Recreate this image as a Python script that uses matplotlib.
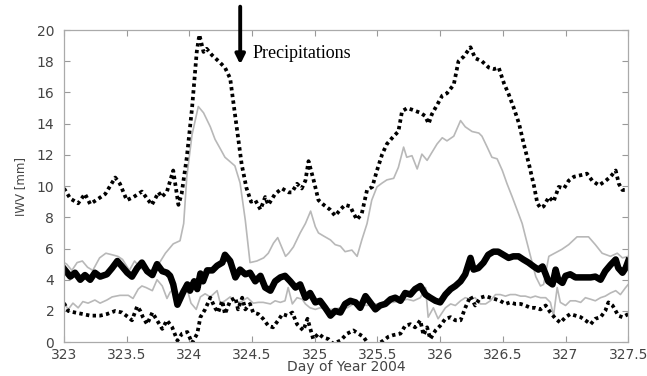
import matplotlib
matplotlib.use("Agg")
import matplotlib.pyplot as plt
import numpy as np

# hours after day 323.0, value [mm]
max_hr = [0.0, 1.2, 2.7, 4.0, 5.0, 6.6, 7.9, 9.8, 10.7, 12.0, 13.3, 14.9, 16.8, 18.1,
          18.7, 19.7, 20.9, 21.9, 22.5, 23.5, 24.5, 25.4, 25.9, 26.7, 27.3, 28.3, 29.6,
          30.8, 31.8, 32.8, 34.0, 34.9, 35.8, 36.6, 37.6, 38.5, 39.1, 40.4, 41.7, 43.0,
          43.6, 44.6, 45.5, 46.2, 46.8, 47.8, 48.7, 49.7, 50.9, 51.9, 52.9, 53.8, 54.8,
          55.4, 56.1, 57.0, 58.0, 59.0, 59.9, 60.9, 61.8, 63.1, 64.0, 64.7, 65.7, 66.6,
          68.2, 69.1, 69.8, 70.4, 71.4, 72.4, 73.3, 74.6, 75.5, 76.5, 77.8, 78.7, 80.0,
          81.3, 82.3, 83.2, 84.2, 85.1, 86.1, 87.1, 88.0, 89.0, 90.0, 90.6, 91.2, 91.8,
          92.8, 93.7, 94.7, 95.7, 96.6, 97.6, 98.9, 100.1, 101.1, 102.4, 103.7, 104.6,
          105.6, 106.2, 106.9, 108.0]
max_val = [9.85, 9.2, 8.9, 9.5, 8.85, 9.2, 9.5, 10.55, 10.15, 9.1, 9.3, 9.65, 8.8, 9.6,
           9.3, 9.65, 11.0, 8.8, 9.5, 11.85, 15.0, 18.6, 19.7, 18.6, 18.8, 18.4, 18.0,
           17.6, 16.9, 14.4, 11.4, 9.9, 9.0, 9.1, 8.5, 9.3, 8.8, 9.5, 9.85, 9.6,
           9.6, 10.15, 9.85, 10.35, 11.6, 10.35, 9.1, 8.8, 8.5, 8.1, 8.5, 8.8, 8.7,
           8.25, 7.85, 8.25, 9.75, 9.95, 11.0, 12.05, 12.7, 13.2, 13.5, 14.8, 15.0, 14.9,
           14.7, 14.5, 14.0, 14.6, 15.2, 15.8, 15.95, 16.5, 18.0, 18.3, 18.9, 18.2, 18.0,
           17.6, 17.5, 17.6, 16.6, 15.9, 15.0, 14.0, 12.7, 11.4, 9.95, 8.9, 8.6, 8.7,
           9.3, 9.0, 9.95, 9.85, 10.35, 10.6, 10.7, 10.8, 10.35, 10.05, 10.35, 10.6,
           11.0, 10.15, 9.75, 9.75]

hi_hr = [0.0, 0.5, 1.5, 2.5, 3.5, 4.5, 5.5, 6.8, 8.0, 9.2, 10.3, 11.2, 12.5, 13.5, 14.5,
         15.8, 17.0, 18.1, 19.4, 20.9, 22.2, 22.9, 23.5, 24.5, 25.7, 26.7, 28.0, 28.9,
         29.9, 30.8, 32.7, 33.7, 34.7, 35.6, 36.9, 38.2, 39.1, 40.1, 40.9, 42.4, 43.0,
         43.9, 45.2, 46.2, 47.2, 48.1, 48.7, 49.7, 51.0, 51.9, 52.9, 53.8, 55.1, 56.1,
         57.0, 58.0, 58.9, 59.9, 60.9, 61.8, 63.1, 64.0, 65.0, 65.6, 66.6, 67.6, 68.5,
         69.5, 70.4, 71.4, 72.4, 73.3, 74.6, 75.9, 76.8, 78.1, 79.4, 80.0, 81.0, 81.9,
         82.9, 83.9, 84.8, 85.8, 86.7, 87.7, 88.3, 89.3, 90.3, 91.2, 91.8, 92.8, 95.3,
         96.6, 98.2, 100.4, 101.7, 103.0, 104.6, 105.9, 106.9, 108.0]
hi_val = [5.1, 5.0, 4.6, 5.1, 5.2, 4.8, 4.6, 5.4, 5.7, 5.6, 5.5, 5.3, 4.6, 5.2, 4.8,
          4.5, 4.4, 5.0, 5.7, 6.3, 6.5, 7.6, 10.6, 13.3, 15.1, 14.7, 13.8, 13.0,
          12.4, 11.85, 11.3, 10.2, 7.8, 5.1, 5.2, 5.4, 5.7, 6.35, 6.7, 5.5, 5.7,
          6.1, 7.0, 7.6, 8.4, 7.4, 7.0, 6.8, 6.55, 6.25, 6.15, 5.8, 5.9, 5.5,
          6.55, 7.6, 9.1, 9.95, 10.2, 10.4, 10.5, 11.2, 12.5, 11.85, 11.95, 11.1, 12.05,
          11.65, 12.15, 12.7, 13.1, 12.9, 13.2, 14.2, 13.8, 13.5, 13.4, 13.2, 12.5, 11.85,
          11.75, 11.0, 10.15, 9.3, 8.5, 7.6, 6.8, 5.5, 4.2, 3.6, 3.7, 5.5, 5.95,
          6.25, 6.75, 6.75, 6.25, 5.7, 5.5, 5.7, 5.4, 5.5]

mean_hr = [0.0, 1.2, 2.1, 3.1, 4.0, 5.0, 5.9, 6.9, 8.2, 9.2, 10.2, 11.1, 12.1, 13.0, 14.0,
           14.9, 15.9, 16.9, 17.8, 18.8, 19.7, 20.3, 20.9, 21.7, 22.8, 23.6, 24.1, 24.9,
           25.5, 26.1, 26.6, 27.4, 28.4, 29.3, 30.3, 30.8, 31.8, 32.8, 33.7, 34.7, 35.6,
           36.6, 37.6, 38.5, 39.5, 40.4, 41.4, 42.3, 43.3, 44.3, 45.2, 46.2, 47.1, 48.1,
           49.0, 50.0, 51.0, 51.9, 52.9, 53.8, 54.8, 55.8, 56.7, 57.7, 58.6, 59.6, 60.5,
           61.5, 62.5, 63.4, 64.4, 65.3, 66.3, 67.2, 68.2, 69.2, 70.1, 71.1, 72.0, 73.0,
           74.0, 74.9, 75.9, 76.8, 77.8, 78.4, 79.3, 80.3, 81.2, 82.2, 83.1, 84.1, 85.1,
           86.0, 87.0, 87.9, 88.9, 89.9, 90.8, 91.6, 92.2, 92.7, 93.5, 94.1, 94.6, 95.4,
           96.0, 96.9, 97.9, 98.9, 99.8, 100.8, 101.7, 102.7, 103.6, 104.6, 105.6, 106.1,
           106.9, 107.5, 108.0]
mean_val = [4.7, 4.2, 4.45, 4.0, 4.3, 4.0, 4.45, 4.2, 4.35, 4.75, 5.2, 4.85, 4.45, 4.2, 4.75,
            5.1, 4.55, 4.3, 5.0, 4.55, 4.45, 4.25, 3.7, 2.4, 3.2, 3.7, 3.3, 3.9,
            3.4, 4.4, 3.9, 4.6, 4.6, 4.9, 5.1, 5.6, 5.2, 4.15, 4.65, 4.35, 4.45,
            3.9, 4.25, 3.5, 3.3, 3.9, 4.15, 4.25, 3.9, 3.5, 3.7, 2.85, 3.15, 2.55,
            2.65, 2.2, 1.7, 2.0, 1.9, 2.45, 2.65, 2.55, 2.2, 2.95, 2.55, 2.1, 2.35,
            2.45, 2.75, 2.85, 2.65, 3.15, 3.05, 3.4, 3.6, 3.05, 2.85, 2.65, 2.55, 3.05,
            3.4, 3.6, 3.9, 4.35, 5.4, 4.65, 4.75, 5.1, 5.6, 5.8, 5.8, 5.6, 5.4,
            5.5, 5.5, 5.3, 5.1, 4.85, 4.65, 4.85, 4.35, 3.9, 3.7, 4.65, 4.0, 3.8,
            4.25, 4.35, 4.15, 4.15, 4.15, 4.15, 4.2, 4.0, 4.55, 4.95, 5.3, 4.75,
            4.45, 4.75, 5.2]

lo_hr = [0.0, 0.8, 1.7, 2.7, 3.6, 4.6, 5.9, 6.9, 8.2, 9.2, 10.7, 12.3, 13.2, 14.2, 14.9,
         15.7, 16.9, 17.8, 18.8, 19.7, 20.3, 20.9, 21.7, 22.6, 23.4, 24.3, 25.3, 26.1,
         27.0, 28.0, 29.3, 29.9, 30.8, 31.8, 32.8, 33.7, 35.1, 36.2, 37.2, 38.1, 39.5,
         40.4, 41.4, 42.3, 42.9, 43.7, 44.6, 45.6, 46.2, 47.1, 48.1, 49.0, 50.4, 51.5,
         52.9, 54.2, 55.4, 56.7, 58.0, 59.2, 60.5, 61.9, 63.0, 64.4, 65.7, 66.9, 68.2,
         69.2, 69.7, 70.7, 71.6, 73.0, 74.0, 74.9, 75.9, 76.8, 77.8, 78.7, 79.7, 80.7,
         81.6, 82.6, 83.5, 84.5, 85.4, 86.4, 87.4, 88.3, 89.3, 90.2, 91.2, 92.2, 93.1,
         93.7, 94.4, 95.0, 96.0, 96.9, 97.9, 98.9, 99.8, 100.8, 101.7, 102.7, 103.6,
         104.6, 105.6, 106.5, 107.5, 108.0]
lo_val = [2.5, 2.1, 2.5, 2.2, 2.6, 2.5, 2.7, 2.5, 2.7, 2.9, 3.0, 3.0, 2.8, 3.4, 3.6,
          3.5, 3.3, 4.0, 3.6, 2.8, 3.2, 3.4, 2.9, 3.4, 3.6, 2.5, 2.1, 2.9,
          3.1, 2.9, 3.3, 2.5, 2.65, 2.9, 2.65, 2.55, 2.85, 2.5, 2.55, 2.55, 2.45,
          2.65, 2.55, 2.65, 3.5, 2.45, 2.85, 2.75, 2.45, 2.2, 2.1, 2.2, 2.1, 2.1,
          2.2, 2.2, 2.45, 2.45, 2.35, 2.45, 2.45, 2.55, 2.55, 2.65, 2.75, 2.65, 2.85,
          3.5, 1.6, 2.2, 1.5, 2.2, 2.45, 2.35, 2.65, 2.85, 2.75, 2.85, 2.45, 2.45,
          2.65, 3.05, 3.05, 2.95, 3.05, 3.05, 2.95, 2.95, 2.85, 2.95, 2.85, 2.85, 2.55,
          1.7, 3.5, 2.55, 2.35, 2.65, 2.65, 2.55, 2.85, 2.75, 2.65, 2.85, 2.95,
          3.15, 3.3, 3.05, 3.5, 3.7]

min_hr = [0.0, 0.8, 2.1, 3.6, 5.0, 6.9, 8.2, 9.8, 11.1, 12.3, 13.0, 14.0, 14.6, 15.1, 15.9,
          16.9, 17.8, 18.8, 19.7, 20.7, 21.7, 22.6, 23.6, 24.5, 25.5, 26.1, 27.0, 28.0,
          28.9, 29.5, 30.3, 30.8, 31.8, 32.8, 33.3, 34.1, 34.7, 35.6, 36.2, 37.2, 38.1,
          39.1, 40.0, 41.0, 41.8, 42.7, 43.7, 44.6, 45.2, 45.8, 46.6, 47.7, 48.7, 49.6,
          50.6, 51.5, 52.9, 54.2, 55.4, 56.3, 57.3, 58.2, 59.2, 60.2, 61.1, 62.1, 63.0,
          64.4, 65.3, 66.3, 67.2, 68.2, 68.8, 69.5, 70.1, 71.1, 72.0, 73.0, 74.0, 74.9,
          75.9, 76.8, 77.8, 78.7, 79.7, 80.7, 81.6, 82.6, 83.5, 84.5, 85.4, 86.4, 87.4,
          88.3, 89.3, 90.2, 91.2, 92.2, 93.1, 94.1, 95.0, 96.0, 96.9, 97.9, 98.9, 99.8,
          100.8, 101.7, 102.7, 103.6, 104.2, 105.0, 105.6, 106.1, 106.9, 108.0]
min_val = [2.5, 2.0, 1.9, 1.8, 1.7, 1.7, 1.8, 2.0, 1.9, 1.6, 1.4, 2.3, 2.0, 1.6, 1.15,
           1.9, 1.4, 0.85, 1.4, 0.95, 0.1, 0.55, 0.65, -0.05, 0.55, 1.6, 2.1, 2.85,
           2.2, 1.9, 2.65, 1.8, 2.65, 2.85, 2.1, 2.85, 2.1, 2.45, 1.9, 1.8, 1.5,
           1.05, 0.95, 1.4, 1.8, 1.7, 1.9, 1.15, 0.95, 0.75, 1.5, 0.2, 0.55, 0.3,
           0.2, -0.1, 0.1, 0.55, 0.75, 0.55, 0.35, -0.1, -0.2, -0.1, 0.1, 0.35, 0.45,
           0.55, 1.05, 1.15, 0.95, 1.4, 0.45, 0.95, 0.2, 0.75, 1.05, 1.5, 1.6, 1.4,
           1.4, 2.2, 2.95, 2.35, 2.85, 2.95, 2.85, 2.75, 2.65, 2.45, 2.55, 2.45, 2.45,
           2.35, 2.2, 2.2, 2.1, 2.35, 1.9, 1.5, 1.25, 1.6, 1.8, 1.7, 1.6, 1.4,
           1.15, 1.5, 1.6, 2.0, 2.55, 2.35, 2.0, 1.7, 1.6, 1.8]

x_ticks = [323, 323.5, 324, 324.5, 325, 325.5, 326, 326.5, 327, 327.5]
x_labels = ["323", "323.5", "324", "324.5", "325", "325.5", "326", "326.5", "327", "327.5"]
y_ticks = list(range(0, 21, 2))

rain_day = 324.405


def to_day(hours):
    return 323 + np.asarray(hours) / 24.0


fig = plt.figure(figsize=(6.47, 3.76), dpi=100)
ax = fig.add_axes([0.099, 0.09, 0.872, 0.83])

gray = "#b8b8b8"
ax.plot(to_day(hi_hr), hi_val, color=gray, lw=1.2)
ax.plot(to_day(lo_hr), lo_val, color=gray, lw=1.2)
ax.plot(to_day(max_hr), max_val, color="black", lw=2.7, linestyle=(0, (0.9, 0.9)))
ax.plot(to_day(min_hr), min_val, color="black", lw=2.7, linestyle=(0, (0.9, 0.9)))
ax.plot(to_day(mean_hr), mean_val, color="black", lw=4.7, solid_joinstyle="round")

ax.set_xlim(323, 327.5)
ax.set_ylim(0, 20)
ax.set_xticks(x_ticks)
ax.set_xticklabels(x_labels)
ax.set_yticks(y_ticks)
ax.tick_params(direction="in", length=4, width=0.8, color="#999999",
               top=True, right=True, labelsize=10, labelcolor="#444444")
ax.tick_params(axis="x", pad=4)
ax.tick_params(axis="y", pad=7)
for sp in ax.spines.values():
    sp.set_color("#aaaaaa")
    sp.set_linewidth(0.9)

ax.set_xlabel("Day of Year 2004", fontsize=10, color="#444444", labelpad=-1)
ax.set_ylabel("IWV [mm]", fontsize=8.5, color="#444444", labelpad=7)

# precipitation marker above the plot
ax.annotate("", xy=(rain_day, 17.8), xytext=(rain_day, 21.5),
            arrowprops=dict(arrowstyle="-|>", lw=2.8, color="black",
                            mutation_scale=14, shrinkA=0, shrinkB=0),
            annotation_clip=False)
ax.text(324.5, 18.5, "Precipitations", family="Liberation Serif", fontsize=13,
        va="center", ha="left")

fig.savefig("out.png", dpi=100)
